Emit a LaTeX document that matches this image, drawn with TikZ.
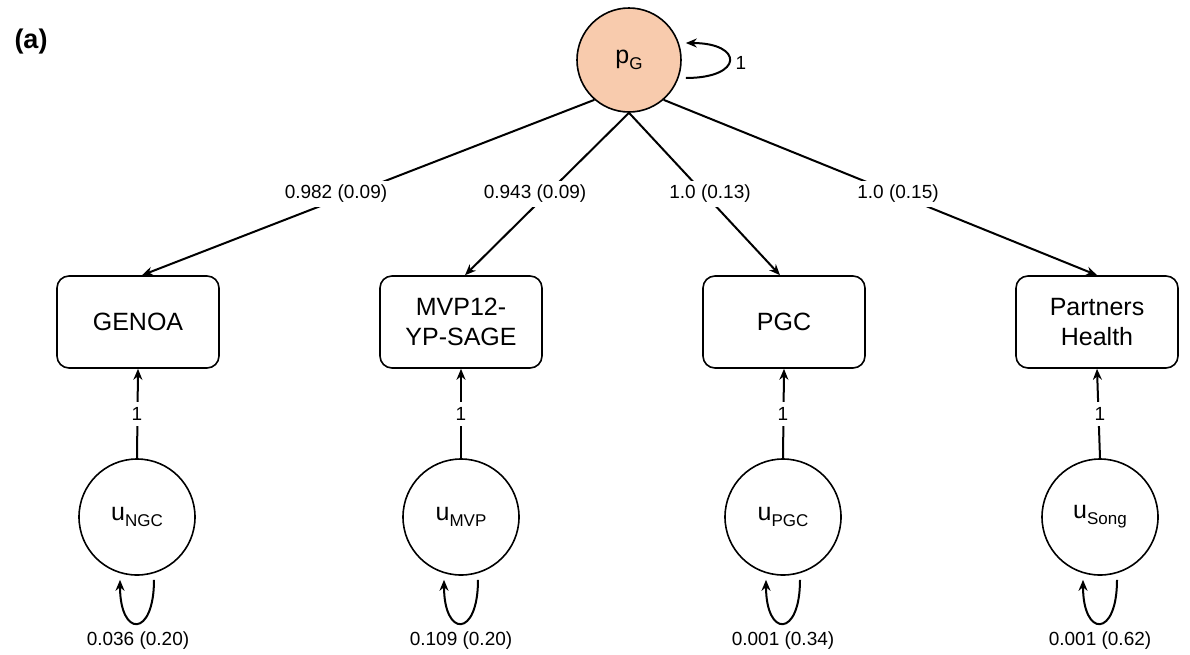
\documentclass[tikz,border=0pt]{standalone}
\usepackage{fontspec}
\setmainfont{Liberation Sans}
\usetikzlibrary{arrows.meta}
\newcommand{\lowsub}[1]{\raisebox{-0.45ex}{\fontsize{17}{17}\selectfont #1}}
\definecolor{peach}{RGB}{248,203,173}
\tikzset{
  arr/.style={line width=2pt,-{Stealth[length=11pt,width=9pt]}},
  obs/.style={draw,line width=1.6pt,rounded corners=12pt,minimum width=162pt,minimum height=92pt,align=center,font=\fontsize{25}{30}\selectfont},
  lat/.style={draw,line width=1.6pt,circle,minimum size=116pt,inner sep=0pt,font=\fontsize{25}{25}\selectfont},
  lab/.style={fill=white,inner sep=4pt,font=\fontsize{19}{19}\selectfont},
}
\begin{document}
\begin{tikzpicture}[x=1pt,y=-1pt]
\useasboundingbox (0,0) rectangle (1190,654);
\node[font=\fontsize{27}{27}\selectfont\bfseries] (tag) at (31,42) {(a)};
\node[lat,fill=peach,minimum size=104pt] (pG) at (629,60) {p\lowsub{G}};
\node[obs] (b1) at (138,322) {GENOA};
\node[obs] (b2) at (461,322) {MVP12-\\YP-SAGE};
\node[obs] (b3) at (784,322) {PGC};
\node[obs] (b4) at (1097,322) {Partners\\Health};
\node[lat] (u1) at (137,517) {u\lowsub{NGC}};
\node[lat] (u2) at (461,517) {u\lowsub{MVP}};
\node[lat] (u3) at (783,517) {u\lowsub{PGC}};
\node[lat] (u4) at (1100,517) {u\lowsub{Song}};
% loadings
\draw[arr] (pG.229) -- ([xshift=4pt]b1.north);
\draw[arr] (pG.south) -- ([xshift=4pt]b2.north);
\draw[arr] (pG.south) -- ([xshift=-4pt]b3.north);
\draw[arr] (pG.311) -- (b4.north);
\node[lab] (l1) at (336,194) {0.982 (0.09)};
\node[lab] (l2) at (535,194) {0.943 (0.09)};
\node[lab] (l3) at (710,194) {1.0 (0.13)};
\node[lab] (l4) at (898,194) {1.0 (0.15)};
% pG variance loop
\draw[arr] ([xshift=4pt,yshift=-18pt]pG.east) .. controls +(58,0) and +(58,0) .. ([xshift=4pt,yshift=17pt]pG.east);
\node[font=\fontsize{19}{19}\selectfont] (one0) at (741,63) {1};
% residual paths
\foreach \u/\b/\x in {u1/b1/137,u2/b2/461,u3/b3/783,u4/b4/1100}{
  \draw[arr] (\u.north) -- (\b.south);
  \node[lab,inner sep=5pt] at (\x,414) {1};
  \draw[arr] ([xshift=17pt,yshift=-4pt]\u.south) .. controls +(0,58) and +(0,58) .. ([xshift=-17pt,yshift=-4pt]\u.south);
}
\node[lab] (v1) at (138,641) {0.036 (0.20)};
\node[lab] (v2) at (461,641) {0.109 (0.20)};
\node[lab] (v3) at (783,641) {0.001 (0.34)};
\node[lab] (v4) at (1100,641) {0.001 (0.62)};
\end{tikzpicture}
\end{document}
